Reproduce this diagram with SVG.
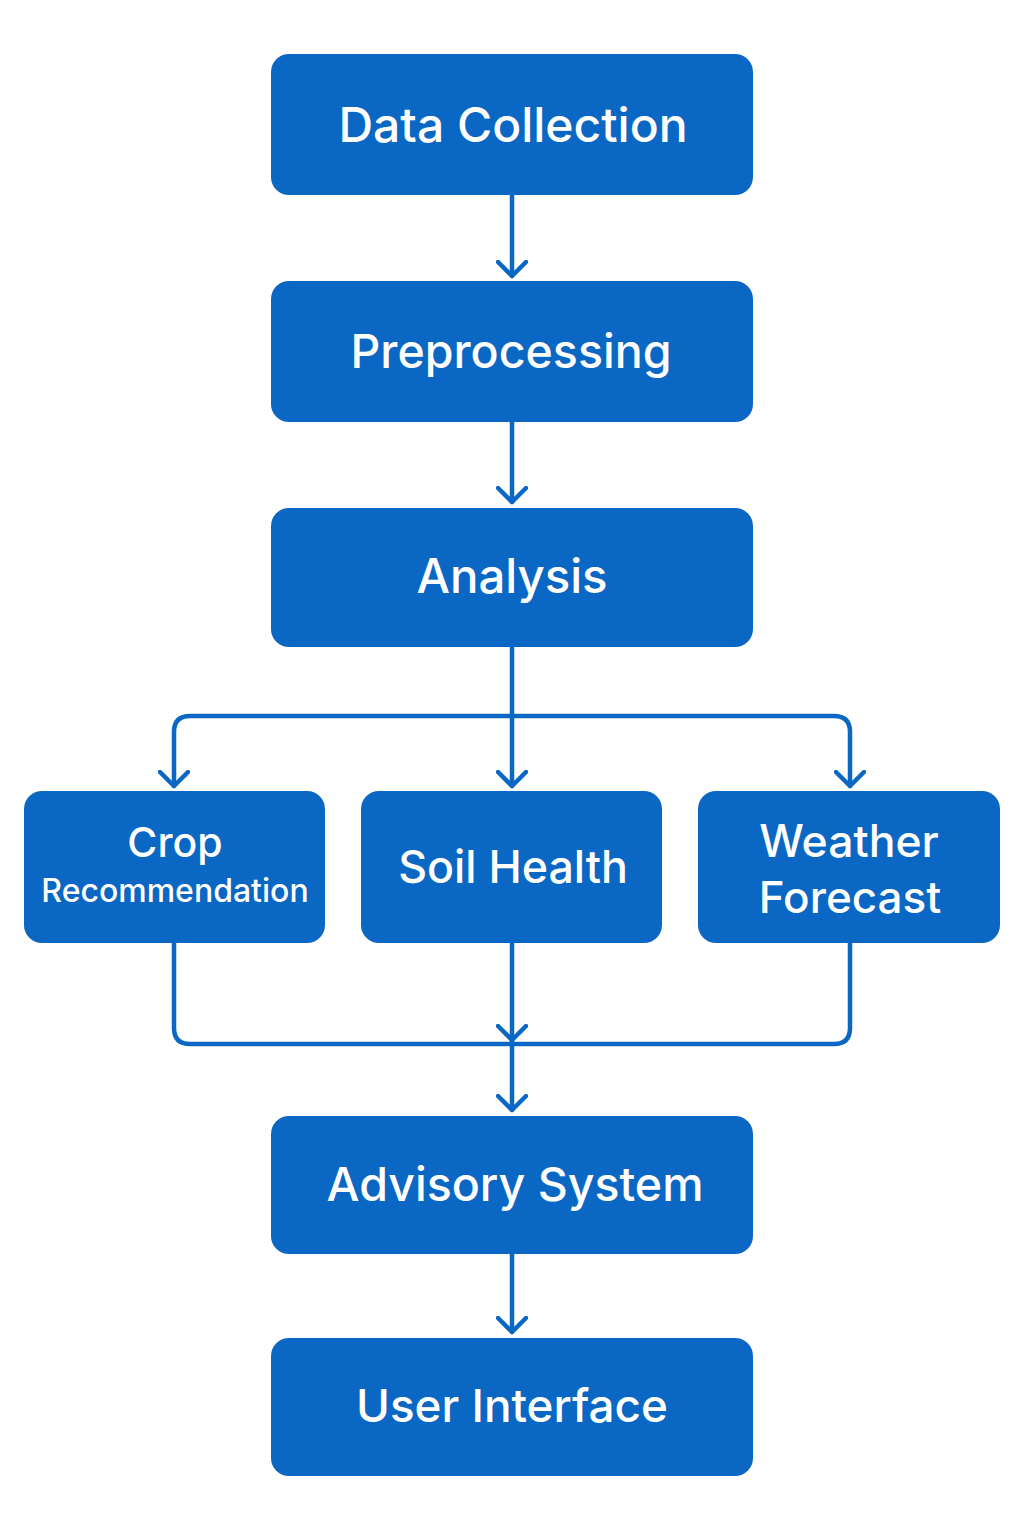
<svg xmlns="http://www.w3.org/2000/svg" width="1024" height="1536" viewBox="0 0 1024 1536">
<defs>
<style>
.box{fill:#0A67C4;}
.t{fill:#ffffff;font-family:Inter,"Open Sans","Liberation Sans",sans-serif;font-weight:500;text-anchor:middle;}
.big{font-size:48px;}
.mid{font-size:44px;}
.sm{font-size:32px;}
.ln{fill:none;stroke:#0A67C4;stroke-width:4.5;stroke-linecap:round;stroke-linejoin:round;}
</style>
<marker id="ah" viewBox="-16 -16 20 32" markerWidth="20" markerHeight="32" refX="0" refY="0" orient="auto" markerUnits="userSpaceOnUse">
<path d="M-14,-14 L0,0 L-14,14" fill="none" stroke="#0A67C4" stroke-width="4.5" stroke-linecap="round" stroke-linejoin="round"/>
</marker>
</defs>
<rect width="1024" height="1536" fill="#ffffff"/>
<g id="connectors">
<path class="ln" d="M512,195 V276" marker-end="url(#ah)"/>
<path class="ln" d="M512,422 V502" marker-end="url(#ah)"/>
<path class="ln" d="M512,647 V786" marker-end="url(#ah)"/>
<path class="ln" d="M512,716 H190 Q174,716 174,732 V786" marker-end="url(#ah)"/>
<path class="ln" d="M512,716 H834 Q850,716 850,732 V786" marker-end="url(#ah)"/>
<path class="ln" d="M174,943 V1028 Q174,1044 190,1044 H834 Q850,1044 850,1028 V943"/>
<path class="ln" d="M512,943 V1040" marker-end="url(#ah)"/>
<path class="ln" d="M512,1040 V1110" marker-end="url(#ah)"/>
<path class="ln" d="M512,1254 V1332" marker-end="url(#ah)"/>
</g>
<g id="n-data-collection">
<rect class="box" x="271" y="54" width="482" height="141" rx="18"/>
<text class="t big" x="513" y="142">Data Collection</text>
</g>
<g id="n-preprocessing">
<rect class="box" x="271" y="281" width="482" height="141" rx="18"/>
<text class="t" style="font-size:46.5px" x="511" y="368">Preprocessing</text>
</g>
<g id="n-analysis">
<rect class="box" x="271" y="508" width="482" height="139" rx="18"/>
<text class="t" style="font-size:47.3px" x="512" y="593">Analysis</text>
</g>
<g id="n-crop">
<rect class="box" x="24" y="791" width="301" height="152" rx="18"/>
<text class="t" style="font-size:41px" x="175" y="857">Crop</text>
<text class="t sm" x="175" y="902">Recommendation</text>
</g>
<g id="n-soil">
<rect class="box" x="361" y="791" width="301" height="152" rx="18"/>
<text class="t" style="font-size:44.7px" x="513" y="883">Soil Health</text>
</g>
<g id="n-weather">
<rect class="box" x="698" y="791" width="302" height="152" rx="18"/>
<text class="t" style="font-size:44.5px" x="849" y="857">Weather</text>
<text class="t mid" x="850" y="913">Forecast</text>
</g>
<g id="n-advisory">
<rect class="box" x="271" y="1116" width="482" height="138" rx="18"/>
<text class="t" style="font-size:46.5px" x="515" y="1201">Advisory System</text>
</g>
<g id="n-ui">
<rect class="box" x="271" y="1338" width="482" height="138" rx="18"/>
<text class="t" style="font-size:45.8px" x="512" y="1422">User Interface</text>
</g>
</svg>
